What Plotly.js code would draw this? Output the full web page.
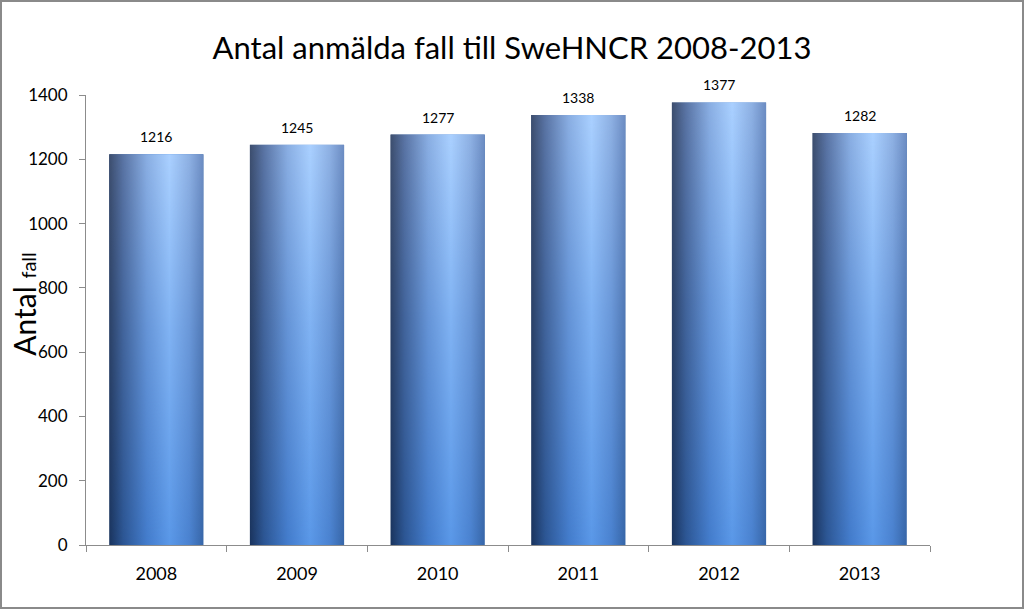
<!DOCTYPE html>
<html>
<head>
<meta charset="utf-8">
<script src="https://cdn.plot.ly/plotly-3.0.1.min.js"></script>
<style>
  html, body { margin: 0; padding: 0; background: #fff; }
  #wrap { position: relative; width: 1024px; height: 609px; }
  #chart { position: absolute; left: 0; top: 0; width: 1024px; height: 609px; }
  #frame { position: absolute; left: 0; top: 0; width: 1024px; height: 609px; box-sizing: border-box;
           border: 2px solid #8a8a8a; pointer-events: none; }
</style>
</head>
<body>
<div id="wrap"><div id="chart"></div><div id="frame"></div></div>
<script>
const years = ['2008', '2009', '2010', '2011', '2012', '2013'];
const cases = [1216, 1245, 1277, 1338, 1377, 1282];
const yTicks = [0, 200, 400, 600, 800, 1000, 1200, 1400];

const fontFam = 'Lato, "Open Sans", sans-serif';

const trace = {
  type: 'bar',
  x: years,
  y: cases,
  marker: { color: '#4a86d8', line: { width: 0 } },
  hoverinfo: 'x+y'
};

// value labels above bars (category axis annotations use the category index)
const labels = years.map(function (yr, i) {
  return {
    x: i, y: cases[i], xref: 'x', yref: 'y',
    text: String(cases[i]), showarrow: false,
    xanchor: 'center', yanchor: 'bottom', yshift: 7,
    font: { family: fontFam, size: 14, color: '#000' }
  };
});

// y-axis title: "Antal" large with a smaller "fall" on the same baseline
labels.push({
  xref: 'paper', yref: 'paper', x: -0.0735, y: 0.536,
  xanchor: 'center', yanchor: 'middle', textangle: -90,
  text: 'Antal <span style="font-size:20px">fall</span>', showarrow: false,
  font: { family: fontFam, size: 30, color: '#000' }
});

const layout = {
  width: 1024,
  height: 609,
  margin: { l: 86, r: 94, t: 95, b: 64 },
  paper_bgcolor: '#fff',
  plot_bgcolor: '#fff',
  showlegend: false,
  bargap: 0.33,
  annotations: labels,
  title: {
    text: 'Antal anmälda fall till SweHNCR 2008-2013',
    font: { family: fontFam, size: 31, color: '#000' },
    x: 0.5, xanchor: 'center', y: 0.921, yanchor: 'middle'
  },
  xaxis: {
    type: 'category',
    range: [-0.5, 5.5],
    showline: true, linecolor: '#8c8c8c', linewidth: 1,
    ticks: 'outside', ticklen: 6, tickcolor: '#8c8c8c', tickson: 'boundaries',
    ticklabelstandoff: 12,
    showgrid: false, zeroline: false,
    tickfont: { family: fontFam, size: 18, color: '#000' }
  },
  yaxis: {
    range: [0, 1400],
    tickvals: yTicks,
    ticktext: yTicks.map(String),
    showline: true, linecolor: '#8c8c8c', linewidth: 1,
    ticks: 'outside', ticklen: 6, tickcolor: '#8c8c8c',
    ticklabelstandoff: 8,
    showgrid: false, zeroline: false,
    tickfont: { family: fontFam, size: 17, color: '#000' }
  }
};

Plotly.newPlot('chart', [trace], layout, { displayModeBar: false, staticPlot: true }).then(function (gd) {
  const svg = gd.querySelector('svg.main-svg');
  const NS = 'http://www.w3.org/2000/svg';
  let defs = svg.querySelector('defs');
  if (!defs) { defs = document.createElementNS(NS, 'defs'); svg.insertBefore(defs, svg.firstChild); }
  function grad(id, x2, y2, stops) {
    const g = document.createElementNS(NS, 'linearGradient');
    g.setAttribute('id', id);
    g.setAttribute('x1', '0'); g.setAttribute('y1', '0');
    g.setAttribute('x2', x2); g.setAttribute('y2', y2);
    stops.forEach(function (s) {
      const st = document.createElementNS(NS, 'stop');
      st.setAttribute('offset', s[0]);
      st.setAttribute('stop-color', s[1]);
      g.appendChild(st);
    });
    defs.appendChild(g);
    return g;
  }
  grad('gradBottom', '1', '0', [
    ['0', '#1a345e'], ['0.15', '#2c5694'], ['0.4', '#437ccc'],
    ['0.64', '#5a98e8'], ['0.85', '#4a82d0'], ['1', '#3766a8']
  ]);
  grad('gradTop', '1', '0', [
    ['0', '#3d4e6e'], ['0.15', '#5a74a4'], ['0.4', '#8aaee2'],
    ['0.64', '#aad0ff'], ['0.85', '#8eb0e2'], ['1', '#6c8cc2']
  ]);
  grad('maskGrad', '0', '1', [
    ['0', '#ffffff'], ['0.45', '#7a7a7a'], ['1', '#000000']
  ]);
  const mask = document.createElementNS(NS, 'mask');
  mask.setAttribute('id', 'topMask');
  mask.setAttribute('maskContentUnits', 'objectBoundingBox');
  const r = document.createElementNS(NS, 'rect');
  r.setAttribute('x', '0'); r.setAttribute('y', '0');
  r.setAttribute('width', '1'); r.setAttribute('height', '1');
  r.setAttribute('fill', 'url(#maskGrad)');
  mask.appendChild(r);
  defs.appendChild(mask);

  gd.querySelectorAll('g.trace.bars g.point path').forEach(function (p) {
    p.style.fill = 'url(#gradBottom)';
    p.style.fillOpacity = 1;
    const c = p.cloneNode(true);
    c.style.fill = 'url(#gradTop)';
    c.style.fillOpacity = 1;
    c.setAttribute('mask', 'url(#topMask)');
    p.parentNode.insertBefore(c, p.nextSibling);
  });
});
</script>
</body>
</html>
